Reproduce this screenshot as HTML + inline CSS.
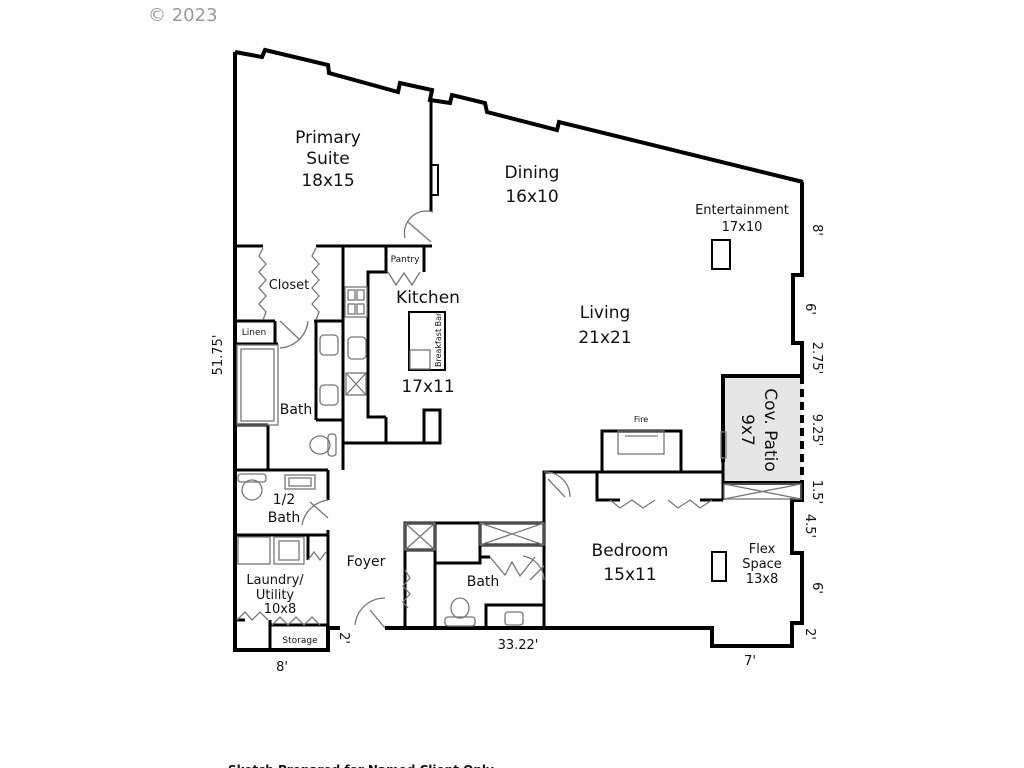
<!DOCTYPE html>
<html><head><meta charset="utf-8"><style>
html,body{margin:0;padding:0;background:#fff;}
svg{display:block;}
text{font-family:"DejaVu Sans","Liberation Sans",sans-serif;fill:#111;}
</style></head><body>
<svg width="1024" height="768" viewBox="0 0 1024 768" xmlns="http://www.w3.org/2000/svg">
<text x="148" y="21" font-size="18" style="fill:#9a9a9a">© 2023</text>

<rect x="723" y="376" width="79" height="107" fill="#e6e6e6"/>

<g fill="none" stroke="#000" stroke-width="4" stroke-linejoin="miter">
<polyline points="235,52 262,57 265,50 328,65 329,73 398,92 400,83 432,90 430,100 450,103 452,95 485,103 487,112 557,130 559,122 803,182"/>
<polyline points="802,182 802,275 793,275 793,343 802,343 802,376"/>
<line x1="802" y1="376" x2="802" y2="483" stroke-dasharray="8,5"/>
<polyline points="802,483 802,500 792,500 792,553 802,553 802,623 792,623 792,646 712,646 712,628 385,628"/>
<polyline points="235,52 235,650 328,650 328,628 340,628"/>
<polyline points="723,462 723,376 802,376"/>
<line x1="723" y1="483" x2="802" y2="483"/>
</g>

<g fill="none" stroke="#000" stroke-width="3">
<polyline points="431,100 431,212"/>
<rect x="431" y="165" width="7" height="30" stroke-width="2"/>
<line x1="235" y1="246" x2="263" y2="246"/>
<line x1="316" y1="246" x2="432" y2="246"/>
<line x1="235" y1="321" x2="275" y2="321"/>
<line x1="314" y1="321" x2="343" y2="321"/>
<line x1="235" y1="344" x2="278" y2="344"/>
<line x1="275" y1="321" x2="275" y2="344"/>
<line x1="343" y1="246" x2="343" y2="470"/>
<line x1="316" y1="321" x2="316" y2="420"/>
<polyline points="386,246 386,272 368,272 368,417 386,417"/>
<polyline points="424,246 424,272"/>
<line x1="316" y1="420" x2="343" y2="420"/>
<line x1="235" y1="425" x2="268" y2="425"/>
<line x1="268" y1="425" x2="268" y2="470"/>
<line x1="235" y1="470" x2="328" y2="470"/>
<line x1="343" y1="443" x2="440" y2="443"/>
<polyline points="386,417 386,443"/>
<rect x="424" y="410" width="16" height="33"/>
<line x1="328" y1="470" x2="328" y2="500"/>
<line x1="328" y1="530" x2="328" y2="650"/>
<line x1="235" y1="535" x2="328" y2="535"/>
<line x1="308" y1="535" x2="308" y2="560"/>
<line x1="270" y1="620" x2="270" y2="650"/>
<line x1="235" y1="620" x2="245" y2="620"/>
<line x1="270" y1="625" x2="328" y2="625"/>
<polyline points="405,628 405,523 544,523"/>
<line x1="435" y1="523" x2="435" y2="628"/>
<line x1="405" y1="550" x2="435" y2="550"/>
<polyline points="435,563 480,563 480,523"/>
<line x1="480" y1="545" x2="544" y2="545"/>
<polyline points="480,545 480,557 490,557"/>
<polyline points="486,628 486,605 544,605"/>
<polyline points="544,628 544,472 723,472 723,500"/>
<polyline points="597,472 597,500 620,500"/>
<line x1="700" y1="500" x2="723" y2="500"/>
<rect x="602" y="431" width="79" height="41"/>
<line x1="723" y1="500" x2="723" y2="462"/>
</g>

<g fill="none" stroke="#777" stroke-width="1.3">
<polyline points="263,248 259,256 266,264 259,272 266,280 259,288 266,296 259,304 266,312 263,320"/>
<polyline points="316,248 312,256 319,264 312,272 319,280 312,288 319,296 312,304 319,312 316,320"/>
<path d="M433,212 A22,22 0 0 0 405,238"/><line x1="408" y1="222" x2="431" y2="242"/>
<path d="M308,321 A30,30 0 0 1 280,348"/><line x1="280" y1="321" x2="300" y2="340"/>
<path d="M328,500 A30,30 0 0 0 302,525"/><line x1="310" y1="502" x2="328" y2="518"/>
<path d="M385,598 A30,30 0 0 0 355,625"/><line x1="370" y1="610" x2="385" y2="628"/>
<path d="M544,472 A25,25 0 0 1 570,497"/><line x1="548" y1="479" x2="565" y2="497"/>
<path d="M544,580 A25,25 0 0 0 523,556"/><line x1="530" y1="580" x2="544" y2="566"/>
<polyline points="388,272 396,285 404,273 412,285 420,272"/>
<rect x="345" y="287" width="22" height="30"/>
<rect x="348" y="290" width="7" height="10"/><rect x="357" y="290" width="7" height="10"/>
<rect x="348" y="304" width="7" height="10"/><rect x="357" y="304" width="7" height="10"/>
<rect x="320" y="335" width="18" height="20" rx="4"/>
<rect x="320" y="385" width="18" height="20" rx="4"/>
<rect x="348" y="337" width="18" height="22" rx="4"/>
<rect x="346" y="373" width="20" height="22"/><path d="M346,373 L366,395 M366,373 L346,395"/>
<rect x="409" y="312" width="36" height="58" stroke="#000" stroke-width="2"/>
<rect x="410" y="350" width="20" height="19"/>
<rect x="237" y="345" width="41" height="80"/><rect x="241" y="349" width="33" height="72"/>
<ellipse cx="320" cy="445" rx="10" ry="9"/><rect x="328" y="434" width="8" height="22" rx="3"/>
<ellipse cx="252" cy="490" rx="10" ry="10"/><rect x="238" y="474" width="28" height="8" rx="3"/>
<rect x="285" y="475" width="30" height="14"/><rect x="289" y="478" width="22" height="8"/>
<ellipse cx="460" cy="608" rx="9" ry="10"/><rect x="445" y="617" width="30" height="9" rx="3"/>
<rect x="505" y="612" width="18" height="13" rx="3"/>
<rect x="238" y="537" width="32" height="27"/><rect x="274" y="537" width="30" height="27"/><rect x="279" y="541" width="20" height="19"/>
<polyline points="308,560 314,552 320,560 326,552"/>
<polyline points="237,620 245,612 252,620 260,612 268,620"/>
<polyline points="272,625 280,617 288,625 296,617 304,625 312,617 320,625"/>
<polyline points="405,570 410,578 403,586 410,594 403,602 408,608"/>
<rect x="405" y="523" width="30" height="27"/><path d="M405,523 L435,550 M435,523 L405,550"/>
<rect x="480" y="523" width="64" height="22"/><path d="M480,523 L544,545 M544,523 L480,545"/>
<polyline points="490,557 505,575 512,562 520,576 535,557"/>
<rect x="618" y="431" width="46" height="23"/>
<line x1="625" y1="436" x2="658" y2="436"/>
<polyline points="610,500 620,508 632,500 643,508 655,500"/>
<polyline points="668,500 678,508 690,500 700,508 712,500"/>
<rect x="724" y="484" width="77" height="15"/><path d="M724,484 L801,499 M801,484 L724,499"/>
<rect x="721" y="432" width="5" height="26"/>
<rect x="712" y="240" width="18" height="29" stroke="#000" stroke-width="2"/>
<rect x="712" y="552" width="14" height="29" stroke="#000" stroke-width="2"/>
</g>

<g text-anchor="middle">
<text x="328" y="143" font-size="17">Primary</text>
<text x="328" y="164" font-size="17">Suite</text>
<text x="328" y="186" font-size="17">18x15</text>
<text x="532" y="178" font-size="17">Dining</text>
<text x="532" y="202" font-size="17">16x10</text>
<text x="742" y="214" font-size="13">Entertainment</text>
<text x="742" y="231" font-size="13">17x10</text>
<text x="605" y="318" font-size="17">Living</text>
<text x="605" y="343" font-size="17">21x21</text>
<text x="428" y="303" font-size="17">Kitchen</text>
<text x="428" y="392" font-size="17">17x11</text>
<text x="405" y="262" font-size="9">Pantry</text>
<text x="289" y="289" font-size="13">Closet</text>
<text x="254" y="335" font-size="9">Linen</text>
<text x="296" y="414" font-size="14">Bath</text>
<text x="284" y="504" font-size="14">1/2</text>
<text x="284" y="522" font-size="14">Bath</text>
<text x="366" y="566" font-size="14">Foyer</text>
<text x="275" y="584" font-size="13">Laundry/</text>
<text x="275" y="599" font-size="13">Utility</text>
<text x="280" y="613" font-size="13">10x8</text>
<text x="300" y="643" font-size="9">Storage</text>
<text x="483" y="586" font-size="14">Bath</text>
<text x="630" y="556" font-size="17">Bedroom</text>
<text x="630" y="580" font-size="17">15x11</text>
<text x="762" y="553" font-size="13">Flex</text>
<text x="762" y="568" font-size="13">Space</text>
<text x="762" y="583" font-size="13">13x8</text>
<text x="641" y="422" font-size="8">Fire</text>
<text x="282" y="671" font-size="13">8'</text>
<text x="518" y="649" font-size="13">33.22'</text>
<text x="750" y="665" font-size="13">7'</text>
</g>
<text transform="translate(441,367) rotate(-90)" font-size="8">Breakfast Bar</text>
<text transform="translate(222,355) rotate(-90)" text-anchor="middle" font-size="13">51.75'</text>
<text transform="translate(765,430) rotate(90)" text-anchor="middle" font-size="17">Cov. Patio</text>
<text transform="translate(742,430) rotate(90)" text-anchor="middle" font-size="17">9x7</text>
<g font-size="13" text-anchor="middle">
<text transform="translate(813,230) rotate(90)">8'</text>
<text transform="translate(806,309) rotate(90)">6'</text>
<text transform="translate(813,358) rotate(90)">2.75'</text>
<text transform="translate(813,430) rotate(90)">9.25'</text>
<text transform="translate(813,492) rotate(90)">1.5'</text>
<text transform="translate(806,526) rotate(90)">4.5'</text>
<text transform="translate(813,588) rotate(90)">6'</text>
<text transform="translate(806,634) rotate(90)">2'</text>
<text transform="translate(340,638) rotate(90)">2'</text>
</g>
<text x="228" y="774" font-size="12" font-weight="bold">Sketch Prepared for Named Client Only</text>
</svg>
</body></html>
